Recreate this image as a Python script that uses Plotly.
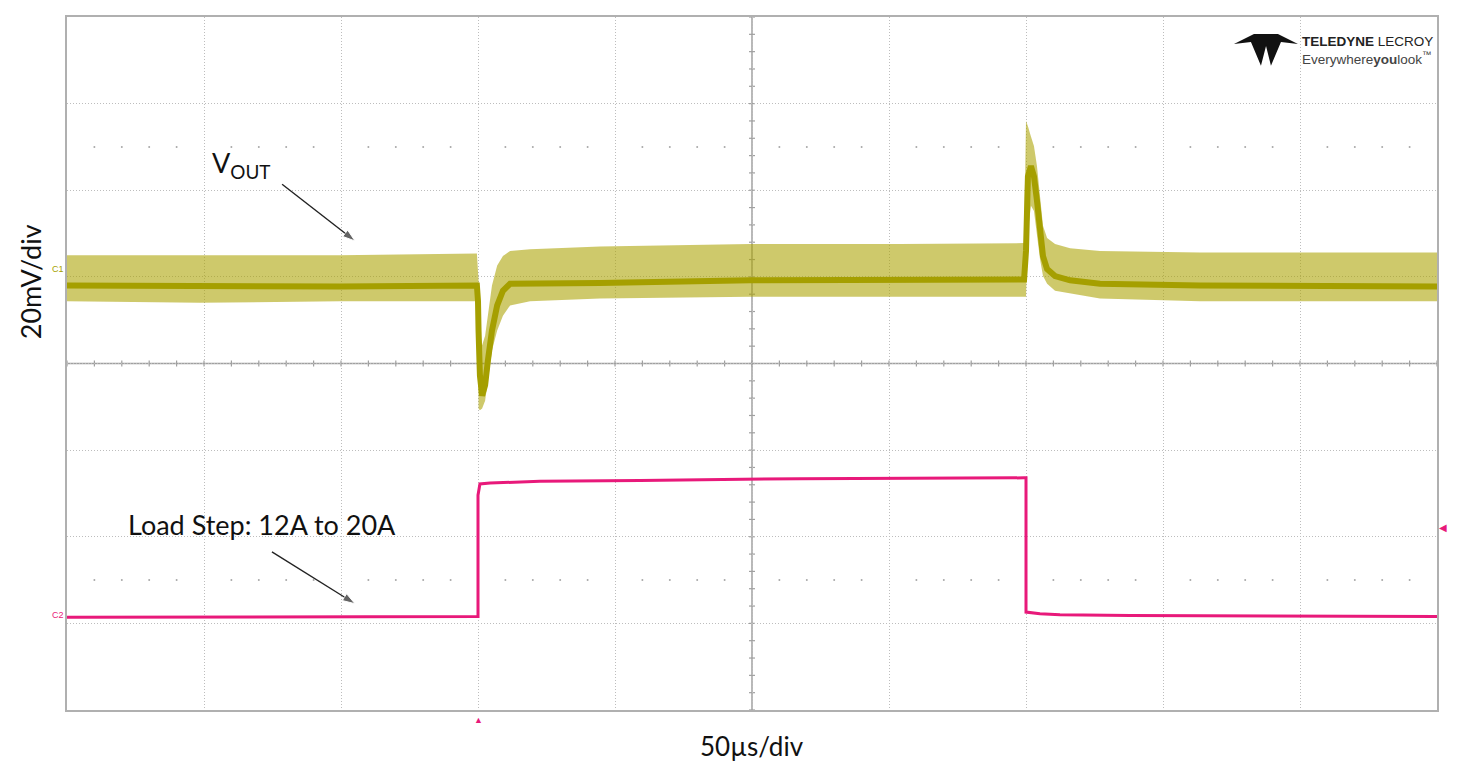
import plotly.graph_objects as go

# time axis in microseconds (50 us/div, 10 div), vertical axis in screen divisions
t_vout = [0, 48.5, 99.6, 149.6, 150.0, 150.2, 150.7, 151.5, 152.6, 153.6, 155.1, 157.0,
          159.1, 161.7, 169.0, 194.5, 249.3, 304.0, 349.3, 350.0, 350.7, 351.8, 352.9,
          354.0, 355.1, 356.2, 357.7, 360.6, 366.1, 377.0, 413.5, 500.0]
vout_mid = [0.90, 0.89, 0.89, 0.90, 0.72, 0.38, -0.14, -0.37, -0.25, 0.03, 0.38, 0.67,
            0.84, 0.92, 0.92, 0.93, 0.96, 0.97, 0.97, 1.30, 2.16, 2.28, 2.16,
            1.88, 1.55, 1.24, 1.09, 1.01, 0.96, 0.92, 0.90, 0.89]
vout_hi = [1.25, 1.25, 1.25, 1.27, 1.07, 0.96, 0.38, 0.21, 0.32, 0.55, 0.90, 1.13,
           1.24, 1.30, 1.32, 1.35, 1.38, 1.38, 1.39, 2.80, 2.74, 2.62, 2.51,
           2.28, 1.93, 1.59, 1.45, 1.38, 1.33, 1.30, 1.28, 1.28]
vout_lo = [0.72, 0.70, 0.72, 0.72, 0.26, -0.52, -0.54, -0.52, -0.43, -0.20, 0.15, 0.38,
           0.55, 0.67, 0.72, 0.75, 0.77, 0.77, 0.77, 0.77, 1.53, 1.82, 1.76,
           1.47, 1.21, 1.01, 0.92, 0.84, 0.81, 0.75, 0.72, 0.72]

t_load = [0, 149.6, 150.0, 150.0, 150.7, 154.4, 172.6, 209.1, 267.5, 349.3, 350.0,
          350.0, 355.1, 362.4, 388.0, 500.0]
load_div = [-2.93, -2.92, -2.92, -1.52, -1.39, -1.38, -1.36, -1.35, -1.33, -1.32, -1.32,
            -2.87, -2.89, -2.90, -2.91, -2.92]

# pointer arrows (tail -> head) in the same units
arrow_vout_x = [78.5, 105.1]
arrow_vout_y = [2.07, 1.415]
arrow_load_x = [74.8, 105.1]
arrow_load_y = [-2.175, -2.773]

# page has an 8px body margin, so the figure is a bit smaller than the window
W, H = 1455, 756
ML, MR, MT, MB = 59, 26, 7, 54
OLIVE = '#A59F00'
PINK = '#E8197A'
FONT = 'Lato'


def px2paper(x, y):
    # x, y are page pixels of the reference picture
    return (x - 67) / 1370, (710 - y) / 695


fig = go.Figure()
fig.add_trace(go.Scatter(x=t_vout, y=vout_hi, mode='lines', line=dict(width=0, color=OLIVE),
                         hoverinfo='skip', showlegend=False))
fig.add_trace(go.Scatter(x=t_vout, y=vout_lo, mode='lines', line=dict(width=0, color=OLIVE),
                         fill='tonexty', fillcolor='rgba(170,162,0,0.58)', showlegend=False))
fig.add_trace(go.Scatter(x=t_vout, y=vout_mid, mode='lines', line=dict(width=6, color=OLIVE),
                         showlegend=False))
fig.add_trace(go.Scatter(x=t_load, y=load_div, mode='lines', line=dict(width=3, color=PINK),
                         showlegend=False))

for ax_, ay_ in ((arrow_vout_x, arrow_vout_y), (arrow_load_x, arrow_load_y)):
    fig.add_trace(go.Scatter(x=ax_, y=ay_, mode='lines+markers', line=dict(width=1.4, color='#222'),
                             marker=dict(symbol=['circle', 'arrow'], size=[0, 13], color='#222',
                                         angleref='previous'),
                             hoverinfo='skip', showlegend=False))

# dotted marker rows at +/-2.5 div
dots_x = [i * 10 for i in range(51) if i % 5]
for yy in (2.5, -2.5):
    fig.add_trace(go.Scatter(x=dots_x, y=[yy] * len(dots_x), mode='markers',
                             marker=dict(size=2, color='#a8a8a8'), hoverinfo='skip',
                             showlegend=False))

# centre cross with minor ticks
shapes = [
    dict(type='line', xref='x', yref='y', x0=250, x1=250, y0=-4, y1=4,
         line=dict(color='#a0a0a0', width=1.5), layer='below'),
    dict(type='line', xref='x', yref='y', x0=0, x1=500, y0=0, y1=0,
         line=dict(color='#a0a0a0', width=1.5), layer='below'),
]
for i in range(51):
    shapes.append(dict(type='line', xref='x', yref='y', ysizemode='pixel', yanchor=0,
                       x0=i * 10, x1=i * 10, y0=-3, y1=3, line=dict(color='#a0a0a0', width=1.2),
                       layer='below'))
for j in range(41):
    shapes.append(dict(type='line', xref='x', yref='y', xsizemode='pixel', xanchor=250,
                       y0=-4 + j * 0.2, y1=-4 + j * 0.2, x0=-3, x1=3,
                       line=dict(color='#a0a0a0', width=1.2), layer='below'))

# Teledyne logo (rough glyph)
logo_px = [(1234, 42), (1254, 32), (1278, 32), (1298, 42), (1281, 40), (1271, 64),
           (1266, 44), (1261, 64), (1251, 40)]
pts = [px2paper(x, y) for x, y in logo_px]
path = 'M ' + ' L '.join(f'{x:.4f},{y:.4f}' for x, y in pts) + ' Z'
shapes.append(dict(type='path', xref='paper', yref='paper', path=path,
                   fillcolor='#111111', line=dict(width=0)))

annotations = [
    dict(text='V<sub>OUT</sub>', x=px2paper(210, 0)[0], y=px2paper(0, 163)[1], xref='paper',
         yref='paper', xanchor='left', yanchor='middle', showarrow=False,
         font=dict(family=FONT, size=27, color='#111')),
    dict(text='Load Step: 12A to 20A', x=px2paper(126, 0)[0], y=px2paper(0, 524)[1],
         xref='paper', yref='paper', xanchor='left', yanchor='middle', showarrow=False,
         font=dict(family=FONT, size=27, color='#111')),
    dict(text='20mV/div', x=px2paper(30, 0)[0], y=px2paper(0, 281)[1], xref='paper',
         yref='paper', textangle=-90, showarrow=False, xanchor='center', yanchor='middle',
         font=dict(family=FONT, size=27, color='#111')),
    dict(text='50µs/div', x=0.5, y=0, xref='paper', yref='paper', yshift=-36,
         showarrow=False, yanchor='middle', font=dict(family=FONT, size=26, color='#111')),
    dict(text='<b>TELEDYNE</b> LECROY', x=px2paper(1300, 0)[0], y=px2paper(0, 40)[1],
         xref='paper', yref='paper', xanchor='left', yanchor='middle', showarrow=False,
         font=dict(family='Liberation Sans', size=13.5, color='#222')),
    dict(text='Everywhere<b>you</b>look<sup>™</sup>', x=px2paper(1300, 0)[0],
         y=px2paper(0, 56)[1], xref='paper', yref='paper', xanchor='left', yanchor='middle',
         showarrow=False, font=dict(family='Liberation Sans', size=13.5, color='#444')),
    dict(text='C1', x=0, y=1.09, xref='paper', yref='y', xanchor='right', xshift=-1,
         showarrow=False, font=dict(family='Liberation Sans', size=9, color=OLIVE)),
    dict(text='C2', x=0, y=-2.90, xref='paper', yref='y', xanchor='right', xshift=-1,
         showarrow=False, font=dict(family='Liberation Sans', size=9, color=PINK)),
    dict(text='◀', x=1, y=-1.89, xref='paper', yref='y', xanchor='left', xshift=0,
         showarrow=False, font=dict(size=10, color=PINK)),
    dict(text='▲', x=150, y=0, xref='x', yref='paper', yanchor='top', yshift=-1,
         showarrow=False, font=dict(size=9, color=PINK)),
]

fig.update_layout(
    width=W, height=H,
    margin=dict(l=ML, r=MR, t=MT, b=MB),
    paper_bgcolor='white', plot_bgcolor='white',
    shapes=shapes, annotations=annotations,
    xaxis=dict(range=[0, 500], dtick=50, tick0=0, showticklabels=False, ticks='',
               showgrid=True, gridcolor='#bdbdbd', griddash='1px,2px', gridwidth=1,
               zeroline=False, showline=True, linecolor='#b0b0b0', linewidth=2, mirror=True),
    yaxis=dict(range=[-4, 4], dtick=1, tick0=0, showticklabels=False, ticks='',
               showgrid=True, gridcolor='#bdbdbd', griddash='1px,2px', gridwidth=1,
               zeroline=False, showline=True, linecolor='#b0b0b0', linewidth=2, mirror=True),
)

fig.write_html('out.html')
